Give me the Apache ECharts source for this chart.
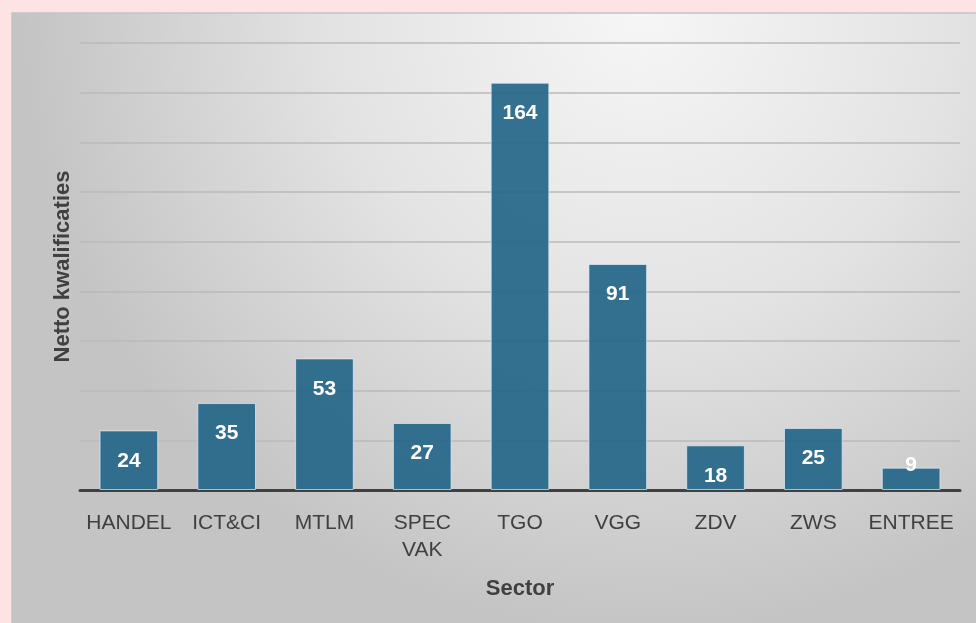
<!DOCTYPE html>
<html>
<head>
<meta charset="utf-8">
<title>Netto kwalificaties per sector</title>
<script src="https://cdn.jsdelivr.net/npm/echarts@6/dist/echarts.min.js"></script>
<style>
    html, body { margin: 0; padding: 0; background: #fde3e3; }
    #chart { width: 976px; height: 623px; }
</style>
</head>
<body>
<div id="chart"></div>
<script>
// sectoren en netto kwalificaties
var sectors = ['HANDEL', 'ICT&CI', 'MTLM', 'SPEC\nVAK', 'TGO', 'VGG', 'ZDV', 'ZWS', 'ENTREE'];
var values = [24, 35, 53, 27, 164, 91, 18, 25, 9];

var chart = echarts.init(document.getElementById('chart'));

var barData = values.map(function (v) {
    if (v < 15) {
        // korte balk: label steekt boven de balk uit
        return {value: v, label: {position: 'top', distance: -8}};
    }
    return v;
});

var option = {
    backgroundColor: '#fde3e3',
    textStyle: {fontFamily: 'Liberation Sans, Arial, sans-serif'},
    graphic: [{
        type: 'rect',
        z: -10,
        shape: {x: 12, y: 13, width: 970, height: 620},
        style: {
            fill: {
                type: 'radial', x: 0.65, y: 0, r: 1.0,
                colorStops: [
                    {offset: 0, color: '#f6f6f6'},
                    {offset: 0.5, color: '#e3e3e3'},
                    {offset: 1, color: '#c4c4c4'}
                ]
            },
            stroke: '#c4c4c4',
            lineWidth: 1.5
        }
    }],
    grid: {
        left: 80,
        right: 16,
        top: 43,
        bottom: 133
    },
    xAxis: {
        type: 'category',
        data: sectors,
        name: 'Sector',
        nameLocation: 'middle',
        nameGap: 88,
        nameTextStyle: {fontSize: 22, fontWeight: 'bold', color: '#404040'},
        axisLine: {lineStyle: {color: '#404040', width: 3}},
        axisTick: {show: false},
        axisLabel: {fontSize: 21, color: '#404040', margin: 20, lineHeight: 27, interval: 0}
    },
    yAxis: {
        type: 'value',
        min: 0,
        max: 180,
        interval: 20,
        name: 'Netto kwalificaties',
        nameLocation: 'middle',
        nameGap: 6,
        nameTextStyle: {fontSize: 22, fontWeight: 'bold', color: '#404040'},
        axisLine: {show: false},
        axisTick: {show: false},
        axisLabel: {show: false},
        splitLine: {lineStyle: {color: '#bababa', width: 1.5}}
    },
    series: [{
        name: 'Netto kwalificaties',
        type: 'bar',
        barCategoryGap: '40%',
        itemStyle: {
            color: 'rgba(36, 101, 136, 0.92)',
            borderColor: 'rgba(225, 238, 246, 0.7)',
            borderWidth: 1
        },
        label: {
            show: true,
            position: 'insideTop',
            distance: 20,
            color: '#ffffff',
            fontSize: 21,
            fontWeight: 'bold'
        },
        data: barData
    }]
};

chart.setOption(option);
</script>
</body>
</html>
